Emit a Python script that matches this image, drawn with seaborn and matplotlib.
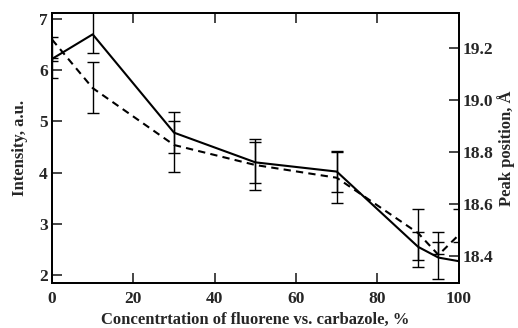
import matplotlib
matplotlib.use("Agg")
import matplotlib.pyplot as plt
import seaborn as sns
import numpy as np
import pandas as pd

# ---- data ----
conc = [0, 10, 30, 50, 70, 90, 95, 100]
intensity = [6.22, 6.70, 4.78, 4.20, 4.02, 2.55, 2.34, 2.27]
peak_pos = [19.233, 19.046, 18.827, 18.750, 18.701, 18.488, 18.404, 18.481]

int_err_x = [0, 10, 30, 50, 70, 90, 95]
int_err_lo = [5.85, 6.33, 4.38, 3.80, 3.62, 2.30, 1.92]
int_err_hi = [6.64, 7.40, 5.18, 4.66, 4.42, 2.84, 2.84]

pk_err_x = [0, 10, 30, 50, 70, 90, 95, 100]
pk_err_lo = [19.150, 18.949, 18.723, 18.652, 18.605, 18.358, 18.408, 18.453]
pk_err_hi = [19.162, 19.148, 18.920, 18.839, 18.800, 18.581, 18.455, 18.581]

x_ticks = [0, 20, 40, 60, 80, 100]
left_ticks = [2, 3, 4, 5, 6, 7]
right_ticks = [18.4, 18.6, 18.8, 19.0, 19.2]

sns.set_style("ticks")
plt.rcParams['font.family'] = ['Liberation Serif', 'DejaVu Serif']
plt.rcParams['font.weight'] = 'bold'

fig = plt.figure(figsize=(5.18, 3.28), dpi=100)
ax = fig.add_axes([0.1004, 0.1372, 0.7853, 0.8232])
ax2 = ax.twinx()

df1 = pd.DataFrame({"x": conc, "y": intensity})
df2 = pd.DataFrame({"x": conc, "y": peak_pos})

sns.lineplot(data=df1, x="x", y="y", ax=ax, color="black", lw=1.5)
sns.lineplot(data=df2, x="x", y="y", ax=ax2, color="black", lw=1.5,
             linestyle=(0, (3.5, 2.5)))

lo = np.array(int_err_lo); hi = np.array(int_err_hi)
ax.errorbar(int_err_x, (lo + hi) / 2, yerr=(hi - lo) / 2, fmt='none',
            ecolor='black', elinewidth=1.0, capsize=4, capthick=1.0)
lo2 = np.array(pk_err_lo); hi2 = np.array(pk_err_hi)
ax2.errorbar(pk_err_x, (lo2 + hi2) / 2, yerr=(hi2 - lo2) / 2, fmt='none',
             ecolor='black', elinewidth=1.0, capsize=4, capthick=1.0)

ax.set_xlim(0, 100)
ax.set_ylim(1.844, 7.117)
ax2.set_ylim(18.296, 19.335)

ax.set_xticks(x_ticks)
ax.set_xticklabels([str(t) for t in x_ticks])
ax.set_yticks(left_ticks)
ax.set_yticklabels([str(t) for t in left_ticks])
ax2.set_yticks(right_ticks)
ax2.set_yticklabels([f"{t:.1f}" for t in right_ticks])

ax.tick_params(axis='x', direction='in', length=7, width=1.2, top=True,
               labelsize=12.5, pad=6)
ax.tick_params(axis='y', direction='in', length=7, width=1.2, right=False,
               labelsize=12.5, pad=3)
ax2.tick_params(axis='y', direction='in', length=7, width=1.2,
                labelsize=12.5, pad=3)

for a in (ax, ax2):
    for s in a.spines.values():
        s.set_visible(True)
        s.set_linewidth(1.3)
        s.set_color('black')

ax.set_xlabel("Concentrtation of fluorene vs. carbazole, %", fontsize=12,
              fontweight='bold', labelpad=3)
ax.set_ylabel("Intensity, a.u.", fontsize=12, fontweight='bold', labelpad=8)
ax2.set_ylabel("Peak position, Å", fontsize=12, fontweight='bold', labelpad=2)

fig.savefig("out.png", dpi=100)
